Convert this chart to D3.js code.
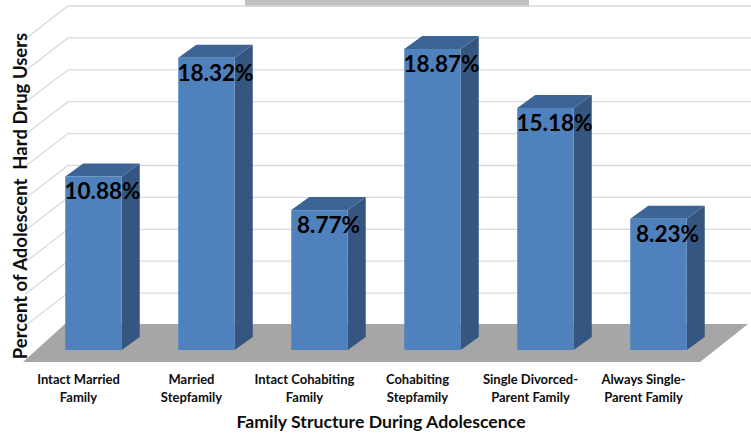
<!DOCTYPE html>
<html><head><meta charset="utf-8">
<script src="https://cdn.jsdelivr.net/npm/d3@7"></script>
<style>body{margin:0;background:#fff}svg{display:block}</style>
</head><body>
<svg id="c" width="751" height="434"></svg>
<script>
const categories = ["Intact Married Family","Married Stepfamily","Intact Cohabiting Family","Cohabiting Stepfamily","Single Divorced-Parent Family","Always Single-Parent Family"];
const labelLines = [["Intact Married","Family"],["Married","Stepfamily"],["Intact Cohabiting","Family"],["Cohabiting","Stepfamily"],["Single Divorced-","Parent Family"],["Always Single-","Parent Family"]];
const values = [10.88, 18.32, 8.77, 18.87, 15.18, 8.23];
const gridTicks = [0,2,4,6,8,10,12,14,16,18,20];
const yTitle = "Percent of Adolescent  Hard Drug Users";
const xTitle = "Family Structure During Adolescence";

const svg = d3.select("#c");
const yBack = d3.scaleLinear().domain([0,20]).range([325,6]);
const frontOff = 25;           // bar front plane below back wall
const x = d3.scaleBand().domain(categories).range([37,715]).paddingInner(0.5).paddingOuter(0.25);
const bw = x.bandwidth();
const dX = 18, dY = -13;       // bar depth

// title box (mostly cut off)
svg.append("rect").attr("x",245).attr("y",-10).attr("width",284).attr("height",17).attr("fill","#bfbfbf");

// gridlines: back wall + left diagonal
const gc = 68, gdx = -43, gdy = 33;
const grid = svg.append("g").attr("stroke","#d9d9d9").attr("stroke-width",1.3).attr("fill","none");
gridTicks.filter(t=>t>0).forEach(t=>{
  const y = yBack(t);
  grid.append("path").attr("d",`M${gc+gdx},${y+gdy}L${gc},${y}L751,${y}`);
});

// floor
const fy0 = yBack(0), fy1 = fy0+37;
svg.append("path").attr("d",`M65,${fy0-1}L748,${fy0-1}L700,${fy1}L23,${fy1}Z`).attr("fill","#a6a6a6");

// bars
const yFront = v => yBack(v)+frontOff;
const base = yFront(0);
const bars = svg.append("g");
categories.forEach((c,i)=>{
  const x0 = x(c), x1 = x0+bw, top = yFront(values[i]);
  bars.append("path").attr("d",`M${x1},${top}L${x1+dX},${top+dY}L${x1+dX},${base+dY}L${x1},${base}Z`).attr("fill","#345680");
  bars.append("path").attr("d",`M${x0},${top}L${x0+dX},${top+dY}L${x1+dX},${top+dY}L${x1},${top}Z`).attr("fill","#3c6595");
  bars.append("rect").attr("x",x0).attr("y",top).attr("width",bw).attr("height",base-top).attr("fill","#4f81bd");
  bars.append("text").attr("x",x0+(bw+dX)/2).attr("y",top+23).attr("text-anchor","middle")
    .attr("font-family","Lato").attr("font-weight","bold").attr("font-size",22.5).attr("fill","#000")
    .text(values[i].toFixed(2)+"%");
});

// category labels
categories.forEach((c,i)=>{
  const t = svg.append("text").attr("text-anchor","middle").attr("font-family","Lato").attr("font-weight","bold")
    .attr("font-size",13).attr("fill","#0d0d0d");
  labelLines[i].forEach((ln,j)=>{
    t.append("tspan").attr("x",x(c)+bw/2-15).attr("y",384+j*18).text(ln);
  });
});

// axis titles
svg.append("text").attr("x",381).attr("y",428).attr("text-anchor","middle").attr("font-family","Lato")
  .attr("font-weight","bold").attr("font-size",17.7).attr("fill","#0d0d0d").text(xTitle);
svg.append("text").attr("transform","translate(27,196) rotate(-90)").attr("text-anchor","middle").attr("font-family","Lato")
  .attr("font-weight","bold").attr("font-size",18.5).attr("fill","#0d0d0d").attr("xml:space","preserve").style("white-space","pre").text(yTitle);
</script>
</body></html>
